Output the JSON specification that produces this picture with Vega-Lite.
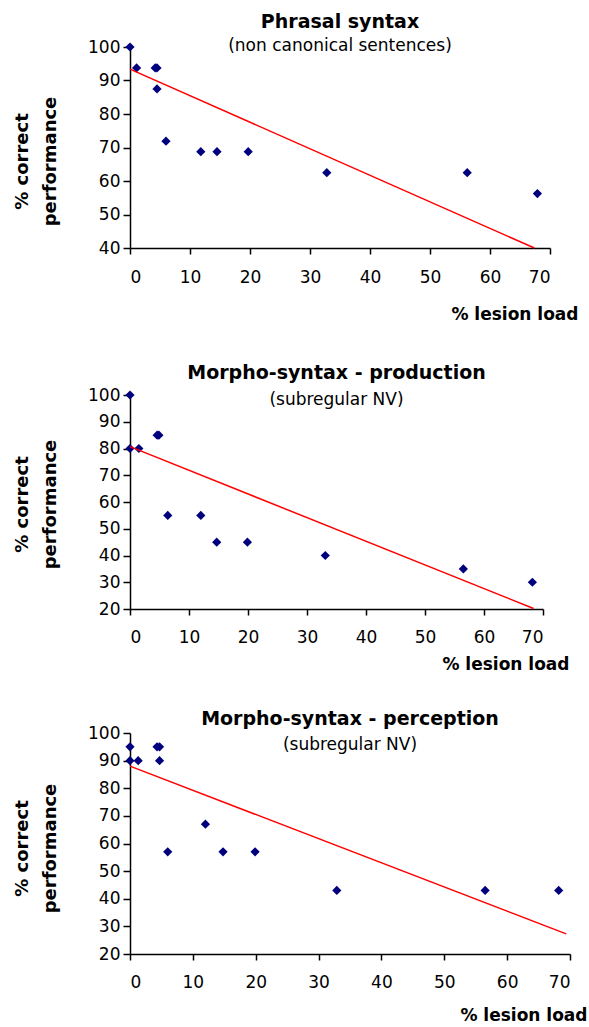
{
  "$schema": "https://vega.github.io/schema/vega-lite/v6.json",
  "background": "white",
  "padding": {"left": 12, "top": 13, "right": 0, "bottom": 0},
  "bounds": "flush",
  "spacing": 147,
  "config": {
    "view": {"stroke": null},
    "font": "DejaVu Sans",
    "axis": {
      "grid": false,
      "domainColor": "black",
      "domainWidth": 1.5,
      "tickColor": "black",
      "tickWidth": 1.5,
      "tickSize": 6,
      "labelFont": "DejaVu Sans",
      "labelFontSize": 17,
      "labelColor": "black",
      "labelOverlap": false,
      "titleFont": "DejaVu Sans",
      "titleFontSize": 17,
      "titleFontWeight": "bold",
      "titleColor": "black"
    },
    "title": {
      "font": "DejaVu Sans",
      "fontSize": 19,
      "fontWeight": "bold",
      "color": "black",
      "subtitleFont": "DejaVu Sans",
      "subtitleFontSize": 17,
      "subtitleColor": "black",
      "anchor": "middle",
      "frame": "group"
    }
  },
  "datasets": {
    "p1": [
      {"lesion": 0, "perf": 100}, {"lesion": 1.1, "perf": 93.75}, {"lesion": 4.2, "perf": 93.75},
      {"lesion": 4.5, "perf": 93.75}, {"lesion": 4.5, "perf": 87.5}, {"lesion": 6, "perf": 71.9},
      {"lesion": 11.8, "perf": 68.75}, {"lesion": 14.5, "perf": 68.75}, {"lesion": 19.7, "perf": 68.75},
      {"lesion": 32.8, "perf": 62.5}, {"lesion": 56.2, "perf": 62.5}, {"lesion": 67.9, "perf": 56.25}
    ],
    "l1": [{"lesion": 0, "perf": 93.4}, {"lesion": 67.4, "perf": 40}],
    "p2": [
      {"lesion": 0, "perf": 100}, {"lesion": 0, "perf": 80}, {"lesion": 1.5, "perf": 80},
      {"lesion": 4.6, "perf": 85}, {"lesion": 4.9, "perf": 85}, {"lesion": 6.4, "perf": 55},
      {"lesion": 12, "perf": 55}, {"lesion": 14.7, "perf": 45}, {"lesion": 19.9, "perf": 45},
      {"lesion": 33.1, "perf": 40}, {"lesion": 56.5, "perf": 35}, {"lesion": 68.2, "perf": 30}
    ],
    "l2": [{"lesion": 0, "perf": 80.7}, {"lesion": 68.4, "perf": 20.2}],
    "p3": [
      {"lesion": 0, "perf": 95}, {"lesion": 0, "perf": 90}, {"lesion": 1.3, "perf": 90},
      {"lesion": 4.3, "perf": 95}, {"lesion": 4.7, "perf": 95}, {"lesion": 4.7, "perf": 90},
      {"lesion": 6, "perf": 57}, {"lesion": 12, "perf": 67}, {"lesion": 14.8, "perf": 57},
      {"lesion": 19.9, "perf": 57}, {"lesion": 32.9, "perf": 43}, {"lesion": 56.5, "perf": 43},
      {"lesion": 68.2, "perf": 43}
    ],
    "l3": [{"lesion": 0, "perf": 88}, {"lesion": 69.4, "perf": 27.3}]
  },
  "vconcat": [
    {
      "width": 420,
      "height": 201,
      "title": {"text": "Phrasal syntax", "subtitle": "(non canonical sentences)", "offset": -16, "subtitlePadding": 6},
      "encoding": {
        "x": {"field": "lesion", "type": "quantitative", "scale": {"domain": [0, 70], "nice": false},
              "axis": {"values": [0,10,20,30,40,50,60,70], "labelPadding": 15, "title": "% lesion load",
                       "titleX": 448, "titleY": 66, "titleAlign": "right", "titleBaseline": "middle"}},
        "y": {"field": "perf", "type": "quantitative", "scale": {"domain": [40, 100], "nice": false, "zero": false},
              "axis": {"values": [40,50,60,70,80,90,100], "labelPadding": 3, "tickSize": 7, "title": ["% correct", "performance"],
                       "titleFontSize": 18, "titleX": -108, "titleY": 114, "titleAlign": "center", "titleBaseline": "middle", "titleLineHeight": 28}}
      },
      "layer": [
        {
          "data": {"name": "p1"},
          "mark": {"type": "point", "shape": "diamond", "filled": true, "color": "#00007f", "size": 85, "opacity": 1}
        },
        {
          "data": {"name": "l1"},
          "mark": {"type": "line", "color": "red", "strokeWidth": 1.5}
        }
      ]
    },
    {
      "bounds": "flush",
      "spacing": 124,
      "vconcat": [
        {
          "width": 413,
          "height": 214,
          "title": {"text": "Morpho-syntax - production", "subtitle": "(subregular NV)", "offset": -22, "subtitlePadding": 9},
          "encoding": {
            "x": {"field": "lesion", "type": "quantitative", "scale": {"domain": [0, 70], "nice": false},
                  "axis": {"values": [0,10,20,30,40,50,60,70], "labelPadding": 14, "title": "% lesion load",
                           "titleX": 439, "titleY": 55, "titleAlign": "right", "titleBaseline": "middle"}},
            "y": {"field": "perf", "type": "quantitative", "scale": {"domain": [20, 100], "nice": false, "zero": false},
                  "axis": {"values": [20,30,40,50,60,70,80,90,100], "labelPadding": 3, "tickSize": 7, "title": ["% correct", "performance"],
                           "titleFontSize": 18, "titleX": -108, "titleY": 109, "titleAlign": "center", "titleBaseline": "middle", "titleLineHeight": 28}}
          },
          "layer": [
            {
              "data": {"name": "p2"},
              "mark": {"type": "point", "shape": "diamond", "filled": true, "color": "#00007f", "size": 85, "opacity": 1}
            },
            {
              "data": {"name": "l2"},
              "mark": {"type": "line", "color": "red", "strokeWidth": 1.5}
            }
          ]
        },
        {
          "width": 440,
          "height": 221,
          "title": {"text": "Morpho-syntax - perception", "subtitle": "(subregular NV)", "offset": -29, "subtitlePadding": 8},
          "encoding": {
            "x": {"field": "lesion", "type": "quantitative", "scale": {"domain": [0, 70], "nice": false},
                  "axis": {"values": [0,10,20,30,40,50,60,70], "labelPadding": 14, "title": "% lesion load",
                           "titleX": 457, "titleY": 61, "titleAlign": "right", "titleBaseline": "middle"}},
            "y": {"field": "perf", "type": "quantitative", "scale": {"domain": [20, 100], "nice": false, "zero": false},
                  "axis": {"values": [20,30,40,50,60,70,80,90,100], "labelPadding": 3, "tickSize": 7, "title": ["% correct", "performance"],
                           "titleFontSize": 18, "titleX": -108, "titleY": 115, "titleAlign": "center", "titleBaseline": "middle", "titleLineHeight": 28}}
          },
          "layer": [
            {
              "data": {"name": "p3"},
              "mark": {"type": "point", "shape": "diamond", "filled": true, "color": "#00007f", "size": 85, "opacity": 1}
            },
            {
              "data": {"name": "l3"},
              "mark": {"type": "line", "color": "red", "strokeWidth": 1.5}
            }
          ]
        }
      ]
    }
  ]
}
